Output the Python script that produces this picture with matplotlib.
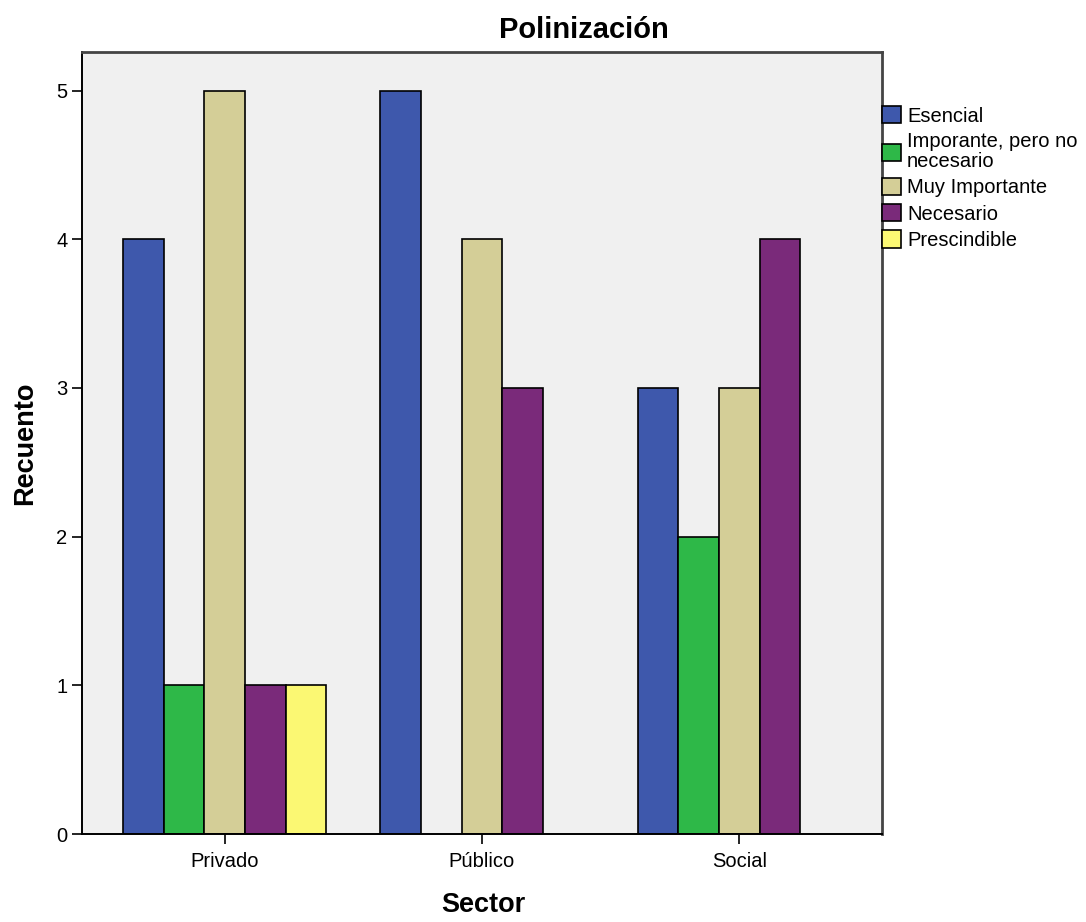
import numpy as np
import matplotlib.pyplot as plt

plt.rcParams["font.family"] = ["Liberation Sans", "DejaVu Sans"]

sectors = ["Privado", "Público", "Social"]
categories = ["Esencial", "Imporante, pero no\nnecesario", "Muy Importante",
              "Necesario", "Prescindible"]
counts = {
    "Esencial": [4, 5, 3],
    "Imporante, pero no\nnecesario": [1, 0, 2],
    "Muy Importante": [5, 4, 3],
    "Necesario": [1, 3, 4],
    "Prescindible": [1, 0, 0],
}
colors = ["#3E58AC", "#2EB848", "#D4CE97", "#7A2A7A", "#FBF873"]

fig = plt.figure(figsize=(10.86, 9.22), dpi=100)
ax = fig.add_axes([82 / 1086, 1 - 834 / 922, 800 / 1086, 782 / 922])
ax.set_facecolor("#F0F0F0")

x = np.arange(len(sectors))
width = 0.158
handles = []
for i, (cat, col) in enumerate(zip(categories, colors)):
    vals = np.array(counts[cat])
    pos = x + (i - 2) * width
    mask = vals > 0
    ax.bar(pos[mask], vals[mask], width, color=col, edgecolor="black", linewidth=1.2)
    handles.append(plt.Rectangle((0, 0), 1, 1, facecolor=col, edgecolor="black", linewidth=1.2))

ax.set_xlim(-0.555, 2.555)
ax.set_ylim(0, 5.26)
ax.set_yticks(range(6))
ax.set_xticks(x)
ax.set_xticklabels(sectors)
ax.tick_params(axis="both", labelsize=14.5, length=7, width=1.2, color="black")
ax.tick_params(axis="x", pad=6)

for side in ["left", "bottom"]:
    ax.spines[side].set_color("black")
    ax.spines[side].set_linewidth(1.4)
for side in ["top", "right"]:
    ax.spines[side].set_color("#444444")
    ax.spines[side].set_linewidth(2.0)

fig.text(584 / 1086, 1 - 30 / 922, "Polinización", ha="center", va="center",
         fontsize=21, fontweight="bold")
fig.text(483 / 1086, 1 - 905 / 922, "Sector", ha="center", va="center",
         fontsize=19.5, fontweight="bold")
fig.text(25 / 1086, 1 - 443 / 922, "Recuento", ha="center", va="center",
         rotation=90, fontsize=19.5, fontweight="bold")

leg = ax.legend(handles, categories, loc="upper left", bbox_to_anchor=(1.0, 1 - 54 / 782),
                frameon=False, fontsize=14.5, handlelength=0.95, handleheight=0.95,
                handletextpad=0.3, labelspacing=0.33, borderaxespad=0, borderpad=0)
for t in leg.get_texts():
    t.set_linespacing(1.05)

fig.savefig("out.png", dpi=100)
